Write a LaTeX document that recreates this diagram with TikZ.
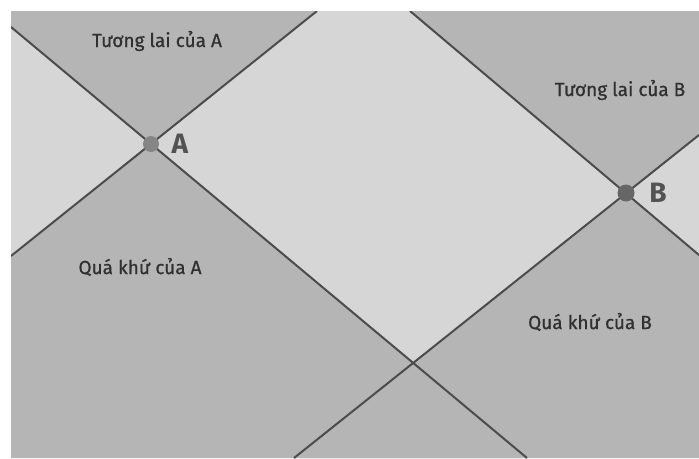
\documentclass[tikz,border=0pt]{standalone}
\usepackage{fontspec}
\setmainfont{Fira Sans}
\newfontfamily\regionfont{Fira Sans}[FakeBold=0.7]
\usetikzlibrary{calc}
\definecolor{lightgrey}{HTML}{D6D6D6}
\definecolor{conegrey}{HTML}{B5B5B5}
\definecolor{linegrey}{HTML}{4C4C4C}
\definecolor{textgrey}{HTML}{303030}
\tikzset{
  cone/.style={fill=conegrey},
  worldline/.style={draw=linegrey, line width=2pt},
  region/.style={text=textgrey, font=\regionfont\fontsize{19}{22}\selectfont, inner sep=0pt},
  event/.style={text=black!68, font=\bfseries\fontsize{28}{30}\selectfont, inner sep=0pt}
}

\begin{document}
\begin{tikzpicture}[x=1pt,y=-1pt]
\useasboundingbox (0,0) rectangle (699,458);
\fill[white] (0,0) rectangle (699,458);
\fill[lightgrey] (11,11) rectangle (699,458);
% events and the crossing of the cones
\coordinate (A) at (151,144);
\coordinate (B) at (626,193);
\coordinate (P) at (413,363);
% ends of the light lines on the frame
\coordinate (a1) at (11,27);   \coordinate (a2) at (527,458);
\coordinate (a3) at (317,11);  \coordinate (a4) at (11,256);
\coordinate (b1) at (410,11);  \coordinate (b2) at (699,255);
\coordinate (b3) at (699,135); \coordinate (b4) at (294,458);
% cones
\fill[cone] (A) -- (a1) |- (a3) -- cycle;
\fill[cone] (A) -- (a4) |- (a2) -- cycle;
\fill[cone] (B) -- (b1) -| (b3) -- cycle;
\fill[cone] (B) -- (b2) |- (b4) -- cycle;
\begin{scope}
\clip (11,11) rectangle (699,458);
\foreach \p/\q in {a1/a2, a3/a4, b1/b2, b3/b4} {
  \draw[worldline] (\p) -- (\q);
}
\end{scope}
\fill[black!48] (A) circle (8);
\fill[black!60] (B) circle (8.5);
\node[event] (labA) at (180,144) {A};
\node[event] (labB) at (658,193) {B};
\node[region] (futA) at (157,41) {Tương lai của A};
\node[region] (futB) at (620,90) {Tương lai của B};
\node[region] (pastA) at (140,267) {Quá khứ của A};
\node[region] (pastB) at (590,322) {Quá khứ của B};
\end{tikzpicture}
\end{document}
